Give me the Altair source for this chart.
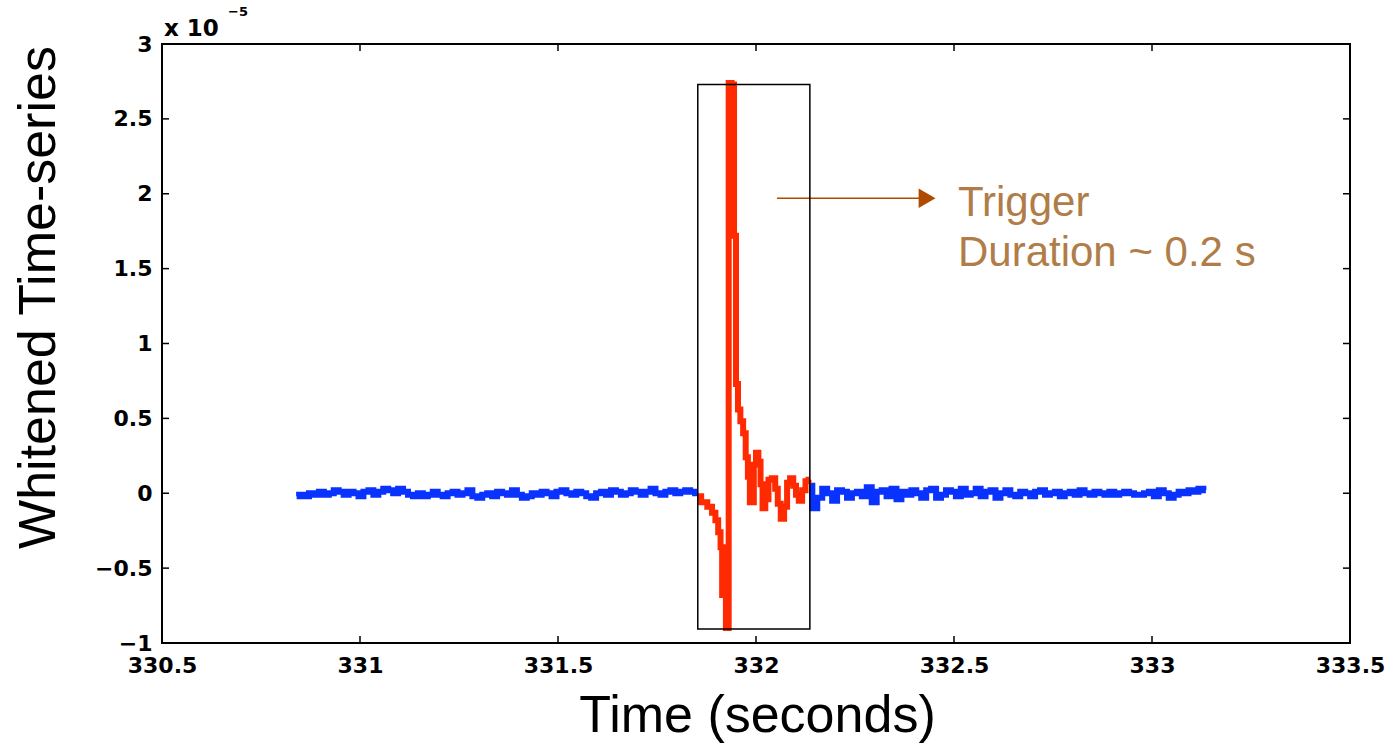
import altair as alt
import pandas as pd

W, H = 1188, 599

# ---------------- data ----------------
x_ticks = [330.5, 331, 331.5, 332, 332.5, 333, 333.5]
y_ticks = [-1, -0.5, 0, 0.5, 1, 1.5, 2, 2.5, 3]
inner_x_ticks = [331, 331.5, 332, 332.5, 333]
inner_y_ticks = [-0.5, 0, 0.5, 1, 1.5, 2, 2.5]

blue_step = 0.0125
blue1_start = 330.84
blue1_values = [
    -0.02, -0.01, -0.02, 0.00, -0.01, 0.01, -0.01, 0.00, 0.02, 0.01,
    -0.01, 0.01, 0.00, -0.02, 0.01, 0.02, -0.01, 0.01, 0.03, 0.02,
    0.00, 0.03, 0.01, -0.01, -0.02, 0.00, -0.02, -0.01, 0.01, -0.01,
    -0.02, 0.00, 0.01, -0.01, 0.00, 0.02, -0.02, -0.03, -0.01, 0.00,
    -0.02, 0.01, 0.00, -0.01, 0.02, -0.01, -0.03, -0.02, 0.00, -0.01,
    0.01, 0.00, -0.02, 0.01, 0.02, 0.00, -0.01, 0.01, 0.00, -0.02,
    -0.03, 0.00, 0.01, -0.01, 0.02, 0.01, -0.01, 0.00, 0.02, 0.01,
    -0.01, 0.01, 0.03, 0.00, -0.01, 0.01, 0.02, 0.00, 0.01, 0.02,
    0.01, 0.00,
]
blue2_start = 332.136
blue2_values = [
    0.05, -0.10, -0.03, 0.03, 0.00, -0.05, 0.02, 0.01, -0.03, 0.00,
    0.01, -0.02, 0.04, -0.06, 0.01, 0.02, -0.02, 0.03, -0.04, 0.01,
    -0.01, 0.02, 0.00, -0.03, 0.02, 0.03, -0.03, -0.01, 0.02, 0.01,
    -0.02, 0.03, -0.01, 0.00, 0.03, -0.02, 0.01, 0.02, -0.03, 0.00,
    0.02, -0.01, -0.02, 0.01, 0.00, -0.02, 0.01, 0.02, -0.01, 0.00,
    0.01, -0.02, 0.00, 0.01, -0.01, 0.02, 0.00, -0.01, 0.01, 0.00,
    -0.01, 0.01, -0.01, 0.00, 0.01, 0.00, -0.01, -0.01, 0.00, 0.01,
    -0.02, 0.02, 0.00, -0.03, -0.01, 0.01, 0.00, 0.02, 0.01, 0.03,
    0.02,
]

red_times = [
    331.853, 331.870, 331.884, 331.894, 331.901, 331.908, 331.913, 331.916,
    331.921, 331.927, 331.935, 331.942, 331.947, 331.952, 331.957, 331.964,
    331.971, 331.977, 331.982, 331.987, 331.992, 331.997, 332.003, 332.009,
    332.014, 332.019, 332.028, 332.035, 332.045, 332.052, 332.058, 332.067,
    332.075, 332.082, 332.090, 332.098, 332.104, 332.112, 332.121, 332.129,
    332.136,
]
red_values = [
    -0.02, -0.06, -0.09, -0.13, -0.18, -0.26, -0.36, -0.68,
    -0.36, -0.90, 2.74, 2.73, 1.72, 0.73, 0.56, 0.48,
    0.40, 0.24, 0.11, -0.06, -0.06, 0.19, 0.27, 0.21,
    0.06, -0.10, -0.04, 0.09, 0.10, 0.03, -0.07, -0.17,
    -0.09, 0.07, 0.10, 0.05, -0.01, -0.05, 0.02, 0.08,
    0.09,
]

box_t = [331.853, 332.136]
box_v = [-0.907, 2.73]
arrow_t = [332.053, 332.425]
arrow_v = 1.97
arrow_head_t = 332.432
label_t = 332.51
label_lines = ["Trigger", "Duration ~ 0.2 s"]
label_v = [1.85, 1.52]

# ---------------- frames ----------------
blue1 = pd.DataFrame({"t": [blue1_start + i * blue_step for i in range(len(blue1_values))],
                      "v": blue1_values})
blue2 = pd.DataFrame({"t": [blue2_start + i * blue_step for i in range(len(blue2_values))],
                      "v": blue2_values})
red = pd.DataFrame({"t": red_times, "v": red_values})
box = pd.DataFrame({"t": [box_t[0]], "t2": [box_t[1]], "v": [box_v[0]], "v2": [box_v[1]]})
arrow = pd.DataFrame({"t": [arrow_t[0]], "t2": [arrow_t[1]], "v": [arrow_v]})
head = pd.DataFrame({"t": [arrow_head_t], "v": [arrow_v]})
labels = pd.DataFrame({"t": [label_t] * 2, "v": label_v, "s": label_lines})
xt = pd.DataFrame({"t": inner_x_ticks})
yt = pd.DataFrame({"v": inner_y_ticks})

xscale = alt.Scale(domain=[330.5, 333.5], nice=False, zero=False)
yscale = alt.Scale(domain=[-1, 3], nice=False, zero=False)

xaxis = alt.Axis(values=x_ticks, format="~g", labelPadding=12,
                 labelFlush=False, labelOverlap=False, titleX=595, titleY=88,
                 titleAlign="center", titleBaseline="alphabetic")
yaxis = alt.Axis(values=y_ticks, format="~g", labelPadding=10,
                 labelFlush=False, labelOverlap=False, titleX=-108, titleY=253,
                 titleAngle=270, titleAlign="center", titleBaseline="alphabetic")

X = alt.X("t:Q", scale=xscale, axis=xaxis, title="Time (seconds)")
Y = alt.Y("v:Q", scale=yscale, axis=yaxis, title="Whitened Time-series")

BLUE = "#0A32FF"
RED = "#FF2A00"

line_blue1 = alt.Chart(blue1).mark_line(color=BLUE, strokeWidth=6, interpolate="step",
                                        strokeJoin="miter").encode(x=X, y=Y)
line_blue2 = alt.Chart(blue2).mark_line(color=BLUE, strokeWidth=6, interpolate="step",
                                        strokeJoin="miter").encode(x=X, y=Y)
line_red = alt.Chart(red).mark_line(color=RED, strokeWidth=6, interpolate="step",
                                    strokeJoin="miter").encode(x=X, y=Y)
arrow_line = alt.Chart(arrow).mark_rule(color="#B04A00", strokeWidth=1.5).encode(
    x=X, x2="t2:Q", y=Y)
arrow_head = alt.Chart(head).mark_point(shape="triangle-right", filled=True, size=380,
                                        color="#B04A00", opacity=1).encode(x=X, y=Y)
box_rect = alt.Chart(box).mark_rect(fillOpacity=0, stroke="black", strokeWidth=1.5).encode(
    x=X, x2="t2:Q", y=Y, y2="v2:Q")
label_text = alt.Chart(labels).mark_text(align="left", baseline="alphabetic", font="Liberation Sans",
                                         fontSize=42, color="#B07D48").encode(
    x=X, y=Y, text="s:N")

# inward ticks on all four sides
tick_bottom = alt.Chart(xt).mark_rule(color="black", strokeWidth=1.5).encode(
    x=X, y=alt.value(H), y2=alt.value(H - 7))
tick_top = alt.Chart(xt).mark_rule(color="black", strokeWidth=1.5).encode(
    x=X, y=alt.value(0), y2=alt.value(7))
tick_left = alt.Chart(yt).mark_rule(color="black", strokeWidth=1.5).encode(
    y=Y, x=alt.value(0), x2=alt.value(7))
tick_right = alt.Chart(yt).mark_rule(color="black", strokeWidth=1.5).encode(
    y=Y, x=alt.value(W), x2=alt.value(W - 7))

exp_base = alt.Chart(pd.DataFrame({"s": ["x 10"]})).mark_text(
    align="left", baseline="alphabetic", font="DejaVu Sans", fontWeight="bold", fontSize=23,
    color="black").encode(x=alt.value(2), y=alt.value(-8), text="s:N")
exp_sup = alt.Chart(pd.DataFrame({"s": ["\u22125"]})).mark_text(
    align="left", baseline="alphabetic", font="DejaVu Sans", fontWeight="bold", fontSize=13,
    color="black").encode(x=alt.value(66), y=alt.value(-28), text="s:N")

chart = alt.layer(
    line_blue1, line_blue2, line_red, arrow_line, arrow_head, box_rect, label_text,
    tick_bottom, tick_top, tick_left, tick_right, exp_base, exp_sup,
).properties(
    width=W, height=H,
    autosize=alt.AutoSizeParams(type="none"),
    padding={"left": 162, "top": 44, "right": 45, "bottom": 101},
    background="white",
).configure_view(
    stroke="black", strokeWidth=2,
).configure_axis(
    grid=False, domain=False, ticks=False,
    labelFont="DejaVu Sans", labelFontWeight="bold", labelFontSize=22, labelColor="black",
    titleFont="Liberation Sans", titleFontSize=52, titleFontWeight="normal", titleColor="black",
)

chart.save("out.html", embed_options={"renderer": "svg", "actions": False})
